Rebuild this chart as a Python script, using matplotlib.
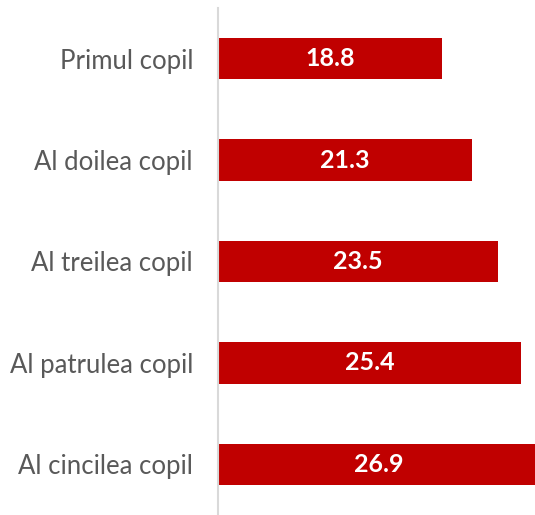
import matplotlib
matplotlib.use("Agg")
import matplotlib.pyplot as plt

categories = ["Primul copil", "Al doilea copil", "Al treilea copil", "Al patrulea copil", "Al cincilea copil"]
values = [18.8, 21.3, 23.5, 25.4, 26.9]

plt.rcParams['font.family'] = ['Lato', 'DejaVu Sans']

fig = plt.figure(figsize=(5.35, 5.15), dpi=100)
ax = fig.add_axes([218/535, 0, (535-218)/535, (515-8)/515])

y = list(range(len(categories)))
ax.barh(y, values, height=0.41, color="#C00000")
ax.set_ylim(len(categories) - 0.5, -0.5)
ax.set_xlim(0, 26.6)

for yi, v in zip(y, values):
    ax.text(v / 2, yi, f"{v:.1f}", ha="center", va="center", color="white",
            fontsize=18, fontweight="bold")

ax.set_yticks(y)
ax.set_yticklabels(categories, fontsize=18.5, color="#595959")
ax.tick_params(axis="y", length=0, pad=18)
ax.set_xticks([])
for s in ["top", "right", "bottom"]:
    ax.spines[s].set_visible(False)
ax.spines["left"].set_color("#D9D9D9")
ax.spines["left"].set_linewidth(1.5)

fig.savefig("out.png", dpi=100)
